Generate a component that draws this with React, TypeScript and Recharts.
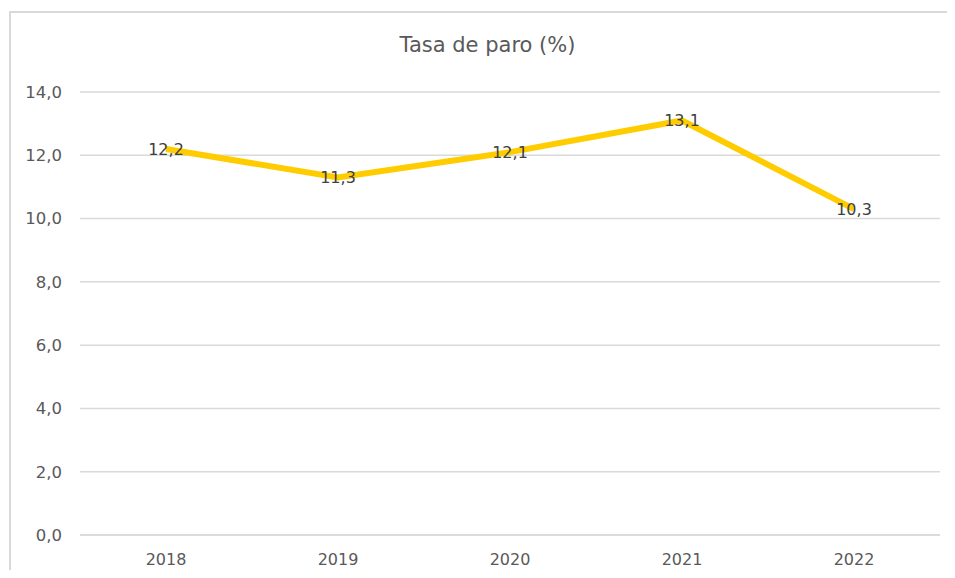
import React from "react";
import { LineChart, Line, XAxis, YAxis, CartesianGrid, LabelList } from "recharts";

const years = ["2018", "2019", "2020", "2021", "2022"];
const rates = [12.2, 11.3, 12.1, 13.1, 10.3];
const yTicks = [0, 2, 4, 6, 8, 10, 12, 14];

const data = years.map((y, i) => ({ year: y, rate: rates[i] }));
const fmt = (v: number) => v.toFixed(1).replace(".", ",");
const FONT = "'DejaVu Sans', sans-serif";

export default function App() {
  return (
    <div style={{ position: "relative", width: 955, height: 578, margin: -8, overflow: "hidden", background: "#fff" }}>
      <div style={{ position: "absolute", left: 9, top: 11, width: 942, height: 580, border: "2px solid #d9d9d9" }} />
      <div style={{ position: "absolute", left: 10, top: 33, width: 955, textAlign: "center", fontFamily: FONT, fontSize: 21, color: "#595959" }}>
        Tasa de paro (%)
      </div>
      <div style={{ position: "absolute", left: 0, top: 0 }}>
        <LineChart width={955} height={578} data={data} margin={{ top: 92, right: 15, left: 0, bottom: 0 }}>
          <CartesianGrid vertical={false} stroke="#d9d9d9" strokeWidth={1.5} />
          <XAxis
            dataKey="year"
            height={43}
            padding={{ left: 86, right: 86 }}
            axisLine={{ stroke: "#d9d9d9", strokeWidth: 1.5 }}
            tickLine={false}
            tickSize={0}
            tickMargin={19}
            tick={{ fill: "#595959", fontSize: 16, fontFamily: FONT }}
          />
          <YAxis
            width={80}
            domain={[0, 14]}
            ticks={yTicks}
            interval={0}
            tickFormatter={fmt}
            axisLine={false}
            tickLine={false}
            tickSize={0}
            tickMargin={18}
            tick={{ fill: "#595959", fontSize: 16.5, fontFamily: FONT }}
          />
          <Line
            type="linear"
            dataKey="rate"
            stroke="#FFCC00"
            strokeWidth={6}
            dot={false}
            isAnimationActive={false}
          >
            <LabelList
              dataKey="rate"
              position="center"
              formatter={(v: number) => fmt(v)}
              style={{ fill: "#404040", fontSize: 16, fontFamily: FONT }}
            />
          </Line>
        </LineChart>
      </div>
    </div>
  );
}
